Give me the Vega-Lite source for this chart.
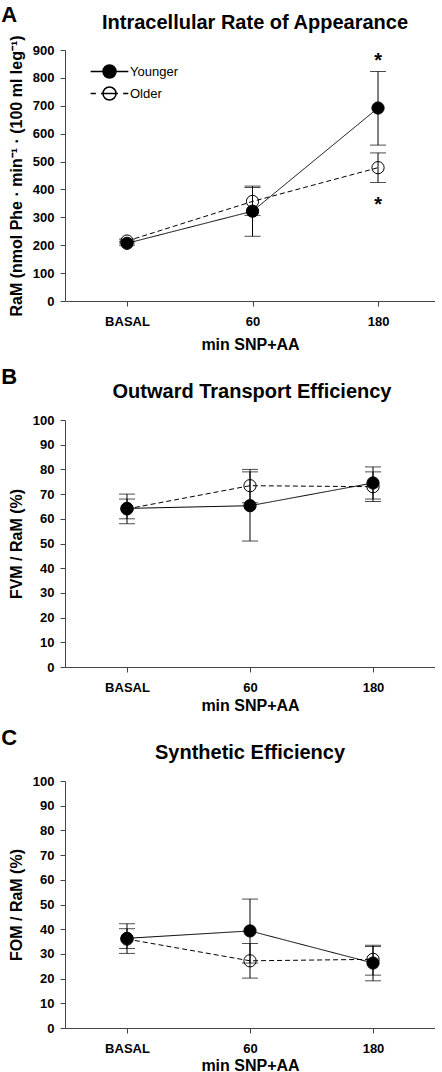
{
  "$schema": "https://vega.github.io/schema/vega-lite/v6.json",
  "padding": {"left": 1, "top": 3, "right": 0, "bottom": 0},
  "background": "white",
  "config": {
    "font": "Liberation Sans",
    "view": {"stroke": null},
    "axis": {
      "grid": false,
      "labelFont": "Liberation Sans",
      "labelFontWeight": "bold",
      "labelFontSize": 13,
      "labelColor": "black",
      "labelOverlap": false,
      "labelFlush": false,
      "titleFont": "Liberation Sans",
      "titleFontWeight": "bold",
      "titleFontSize": 16,
      "titleColor": "black",
      "domainColor": "#444",
      "tickColor": "#444",
      "tickSize": 5
    },
    "axisX": {"labelPadding": 9, "titlePadding": 5},
    "axisY": {"labelPadding": 6, "titlePadding": 8},
    "title": {"font": "Liberation Sans", "color": "black", "fontWeight": "bold"},
    "legend": {"labelFont": "Liberation Sans", "labelFontSize": 13, "labelColor": "black"}
  },
  "datasets": {
    "a": [
      {"time": 0, "group": "Older", "mean": 215, "lo": 208, "hi": 222},
      {"time": 1, "group": "Older", "mean": 357, "lo": 307, "hi": 407},
      {"time": 2, "group": "Older", "mean": 478, "lo": 425, "hi": 531},
      {"time": 0, "group": "Younger", "mean": 207, "lo": 200, "hi": 214},
      {"time": 1, "group": "Younger", "mean": 322, "lo": 232, "hi": 412},
      {"time": 2, "group": "Younger", "mean": 692, "lo": 559, "hi": 823}
    ],
    "astA": [
      {"time": 2, "y": 874, "label": "*"},
      {"time": 2, "y": 359, "label": "*"}
    ],
    "b": [
      {"time": 0, "group": "Older", "mean": 64, "lo": 60, "hi": 68},
      {"time": 1, "group": "Older", "mean": 73.4, "lo": 66.5, "hi": 80},
      {"time": 2, "group": "Older", "mean": 73, "lo": 67, "hi": 79},
      {"time": 0, "group": "Younger", "mean": 64.2, "lo": 58, "hi": 70},
      {"time": 1, "group": "Younger", "mean": 65.3, "lo": 51, "hi": 79},
      {"time": 2, "group": "Younger", "mean": 74.5, "lo": 68, "hi": 81}
    ],
    "c": [
      {"time": 0, "group": "Older", "mean": 36, "lo": 32.2, "hi": 40.2},
      {"time": 1, "group": "Older", "mean": 27.2, "lo": 20.2, "hi": 34.2},
      {"time": 2, "group": "Older", "mean": 27.8, "lo": 21.4, "hi": 33},
      {"time": 0, "group": "Younger", "mean": 36.3, "lo": 30.2, "hi": 42.2},
      {"time": 1, "group": "Younger", "mean": 39.3, "lo": 26.3, "hi": 52.2},
      {"time": 2, "group": "Younger", "mean": 26.3, "lo": 19.1, "hi": 33.5}
    ]
  },
  "spacing": 14,
  "vconcat": [
    {
      "title": {"text": "A", "anchor": "start", "frame": "bounds", "fontSize": 22, "offset": -14, "dx": -7},
      "vconcat": [
        {
          "width": 370,
          "height": 251,
          "title": {"text": "Intracellular Rate of Appearance", "fontSize": 20, "offset": 2, "dx": 5},
          "data": {"name": "a"},
          "encoding": {
            "x": {"field": "time", "type": "quantitative",
              "scale": {"domain": [-0.494, 2.454], "nice": false, "zero": false},
              "axis": {"values": [0, 1, 2], "title": "min SNP+AA", "labelOverlap": false, "titlePadding": 8,
                "labelExpr": "datum.value == 0 ? 'BASAL' : datum.value == 1 ? '60' : '180'"}}
          },
          "layer": [
            {
              "mark": {"type": "point", "shape": "circle", "filled": true, "size": 150, "stroke": "black", "strokeWidth": 1, "opacity": 1},
              "encoding": {
                "y": {"field": "mean", "type": "quantitative",
                  "scale": {"domain": [0, 900], "nice": false},
                  "axis": {"values": [0, 100, 200, 300, 400, 500, 600, 700, 800, 900], "labelOverlap": false, "labelFlush": false,
                    "title": "RaM (nmol Phe · min⁻¹ · (100 ml leg⁻¹)"}},
                "fill": {"condition": {"test": "datum.group === 'Younger'", "value": "black"}, "value": "white"}
              }
            },
            {
              "mark": {"type": "line", "color": "black", "strokeWidth": 1},
              "encoding": {
                "y": {"field": "mean", "type": "quantitative",
                  "axis": {"values": [0, 100, 200, 300, 400, 500, 600, 700, 800, 900], "labelOverlap": false, "labelFlush": false,
                    "title": "RaM (nmol Phe · min⁻¹ · (100 ml leg⁻¹)"}},
                "detail": {"field": "group"},
                "strokeDash": {"condition": {"test": "datum.group === 'Older'", "value": [5, 3]}, "value": [1, 0]}
              }
            },
            {
              "mark": {"type": "rule", "color": "black", "strokeWidth": 1},
              "encoding": {"y": {"field": "lo", "type": "quantitative",
                  "axis": {"values": [0, 100, 200, 300, 400, 500, 600, 700, 800, 900], "labelOverlap": false, "labelFlush": false,
                    "title": "RaM (nmol Phe · min⁻¹ · (100 ml leg⁻¹)"}}, "y2": {"field": "hi"}}
            },
            {
              "mark": {"type": "tick", "orient": "horizontal", "size": 16, "thickness": 1, "color": "black"},
              "encoding": {"y": {"field": "lo", "type": "quantitative",
                  "axis": {"values": [0, 100, 200, 300, 400, 500, 600, 700, 800, 900], "labelOverlap": false, "labelFlush": false,
                    "title": "RaM (nmol Phe · min⁻¹ · (100 ml leg⁻¹)"}}}
            },
            {
              "mark": {"type": "tick", "orient": "horizontal", "size": 16, "thickness": 1, "color": "black"},
              "encoding": {"y": {"field": "hi", "type": "quantitative",
                  "axis": {"values": [0, 100, 200, 300, 400, 500, 600, 700, 800, 900], "labelOverlap": false, "labelFlush": false,
                    "title": "RaM (nmol Phe · min⁻¹ · (100 ml leg⁻¹)"}}}
            },
            {
              "data": {"name": "astA"},
              "mark": {"type": "text", "fontSize": 20, "fontWeight": "bold", "baseline": "middle", "dy": 4, "color": "black"},
              "encoding": {"y": {"field": "y", "type": "quantitative",
                  "axis": {"values": [0, 100, 200, 300, 400, 500, 600, 700, 800, 900], "labelOverlap": false, "labelFlush": false,
                    "title": "RaM (nmol Phe · min⁻¹ · (100 ml leg⁻¹)"}}, "text": {"field": "label"}}
            },
            {
              "mark": {"type": "point", "filled": true, "color": "black", "opacity": 0, "stroke": "black"},
              "encoding": {
                "y": {"field": "mean", "type": "quantitative",
                  "axis": {"values": [0, 100, 200, 300, 400, 500, 600, 700, 800, 900], "labelOverlap": false, "labelFlush": false,
                    "title": "RaM (nmol Phe · min⁻¹ · (100 ml leg⁻¹)"}},
                "shape": {"field": "group", "type": "nominal",
                  "scale": {"domain": ["Younger", "Older"],
                    "range": ["M-2.9,0L-1,0M1,0L2.9,0M-1,0A1,1,0,1,1,1,0A1,1,0,1,1,-1,0Z",
                              "M-2.9,0L-2.1,0M-1.3,0L1.3,0M2.1,0L2.9,0M-1,0A1,1,0,1,1,1,0A1,1,0,1,1,-1,0ZM-1,0A1,1,0,1,0,1,0A1,1,0,1,0,-1,0Z"]},
                  "legend": {"title": null, "orient": "none", "legendX": 37, "legendY": 14,
                    "symbolSize": 169, "labelOffset": 13, "rowPadding": 3, "padding": 0,
                    "encode": {"symbols": {"update": {
                      "stroke": {"value": "black"}, "strokeWidth": {"value": 1}, "opacity": {"value": 1}, "strokeOpacity": {"value": 1}, "fillOpacity": {"value": 1}}}}}}
              }
            }
          ]
        }
      ]
    },
    {
      "title": {"text": "B", "anchor": "start", "frame": "bounds", "fontSize": 22, "offset": -7, "dx": -7},
      "vconcat": [
        {
          "width": 370,
          "height": 247,
          "title": {"text": "Outward Transport Efficiency", "fontSize": 20, "offset": 12, "dx": 2},
          "data": {"name": "b"},
          "encoding": {
            "x": {"field": "time", "type": "quantitative",
              "scale": {"domain": [-0.504, 2.504], "nice": false, "zero": false},
              "axis": {"values": [0, 1, 2], "title": "min SNP+AA", "labelOverlap": false, "titlePadding": 3,
                "labelExpr": "datum.value == 0 ? 'BASAL' : datum.value == 1 ? '60' : '180'"}}
          },
          "layer": [
            {
              "mark": {"type": "point", "shape": "circle", "filled": true, "size": 150, "stroke": "black", "strokeWidth": 1, "opacity": 1},
              "encoding": {
                "y": {"field": "mean", "type": "quantitative",
                  "scale": {"domain": [0, 100], "nice": false},
                  "axis": {"values": [0, 10, 20, 30, 40, 50, 60, 70, 80, 90, 100], "labelOverlap": false, "labelFlush": false, "title": "FVM / RaM (%)"}},
                "fill": {"condition": {"test": "datum.group === 'Younger'", "value": "black"}, "value": "white"}
              }
            },
            {
              "mark": {"type": "line", "color": "black", "strokeWidth": 1},
              "encoding": {
                "y": {"field": "mean", "type": "quantitative",
                  "axis": {"values": [0, 10, 20, 30, 40, 50, 60, 70, 80, 90, 100], "labelOverlap": false, "labelFlush": false, "title": "FVM / RaM (%)"}},
                "detail": {"field": "group"},
                "strokeDash": {"condition": {"test": "datum.group === 'Older'", "value": [5, 3]}, "value": [1, 0]}
              }
            },
            {
              "mark": {"type": "rule", "color": "black", "strokeWidth": 1},
              "encoding": {"y": {"field": "lo", "type": "quantitative",
                  "axis": {"values": [0, 10, 20, 30, 40, 50, 60, 70, 80, 90, 100], "labelOverlap": false, "labelFlush": false, "title": "FVM / RaM (%)"}}, "y2": {"field": "hi"}}
            },
            {
              "mark": {"type": "tick", "orient": "horizontal", "size": 16, "thickness": 1, "color": "black"},
              "encoding": {"y": {"field": "lo", "type": "quantitative",
                  "axis": {"values": [0, 10, 20, 30, 40, 50, 60, 70, 80, 90, 100], "labelOverlap": false, "labelFlush": false, "title": "FVM / RaM (%)"}}}
            },
            {
              "mark": {"type": "tick", "orient": "horizontal", "size": 16, "thickness": 1, "color": "black"},
              "encoding": {"y": {"field": "hi", "type": "quantitative",
                  "axis": {"values": [0, 10, 20, 30, 40, 50, 60, 70, 80, 90, 100], "labelOverlap": false, "labelFlush": false, "title": "FVM / RaM (%)"}}}
            }
          ]
        }
      ]
    },
    {
      "title": {"text": "C", "anchor": "start", "frame": "bounds", "fontSize": 22, "offset": -7, "dx": -7},
      "vconcat": [
        {
          "width": 370,
          "height": 247,
          "title": {"text": "Synthetic Efficiency", "fontSize": 20, "offset": 12},
          "data": {"name": "c"},
          "encoding": {
            "x": {"field": "time", "type": "quantitative",
              "scale": {"domain": [-0.504, 2.504], "nice": false, "zero": false},
              "axis": {"values": [0, 1, 2], "title": "min SNP+AA", "labelOverlap": false, "titlePadding": 2,
                "labelExpr": "datum.value == 0 ? 'BASAL' : datum.value == 1 ? '60' : '180'"}}
          },
          "layer": [
            {
              "mark": {"type": "point", "shape": "circle", "filled": true, "size": 150, "stroke": "black", "strokeWidth": 1, "opacity": 1},
              "encoding": {
                "y": {"field": "mean", "type": "quantitative",
                  "scale": {"domain": [0, 100], "nice": false},
                  "axis": {"values": [0, 10, 20, 30, 40, 50, 60, 70, 80, 90, 100], "labelOverlap": false, "labelFlush": false, "title": "FOM / RaM (%)"}},
                "fill": {"condition": {"test": "datum.group === 'Younger'", "value": "black"}, "value": "white"}
              }
            },
            {
              "mark": {"type": "line", "color": "black", "strokeWidth": 1},
              "encoding": {
                "y": {"field": "mean", "type": "quantitative",
                  "axis": {"values": [0, 10, 20, 30, 40, 50, 60, 70, 80, 90, 100], "labelOverlap": false, "labelFlush": false, "title": "FOM / RaM (%)"}},
                "detail": {"field": "group"},
                "strokeDash": {"condition": {"test": "datum.group === 'Older'", "value": [5, 3]}, "value": [1, 0]}
              }
            },
            {
              "mark": {"type": "rule", "color": "black", "strokeWidth": 1},
              "encoding": {"y": {"field": "lo", "type": "quantitative",
                  "axis": {"values": [0, 10, 20, 30, 40, 50, 60, 70, 80, 90, 100], "labelOverlap": false, "labelFlush": false, "title": "FOM / RaM (%)"}}, "y2": {"field": "hi"}}
            },
            {
              "mark": {"type": "tick", "orient": "horizontal", "size": 16, "thickness": 1, "color": "black"},
              "encoding": {"y": {"field": "lo", "type": "quantitative",
                  "axis": {"values": [0, 10, 20, 30, 40, 50, 60, 70, 80, 90, 100], "labelOverlap": false, "labelFlush": false, "title": "FOM / RaM (%)"}}}
            },
            {
              "mark": {"type": "tick", "orient": "horizontal", "size": 16, "thickness": 1, "color": "black"},
              "encoding": {"y": {"field": "hi", "type": "quantitative",
                  "axis": {"values": [0, 10, 20, 30, 40, 50, 60, 70, 80, 90, 100], "labelOverlap": false, "labelFlush": false, "title": "FOM / RaM (%)"}}}
            }
          ]
        }
      ]
    }
  ]
}
